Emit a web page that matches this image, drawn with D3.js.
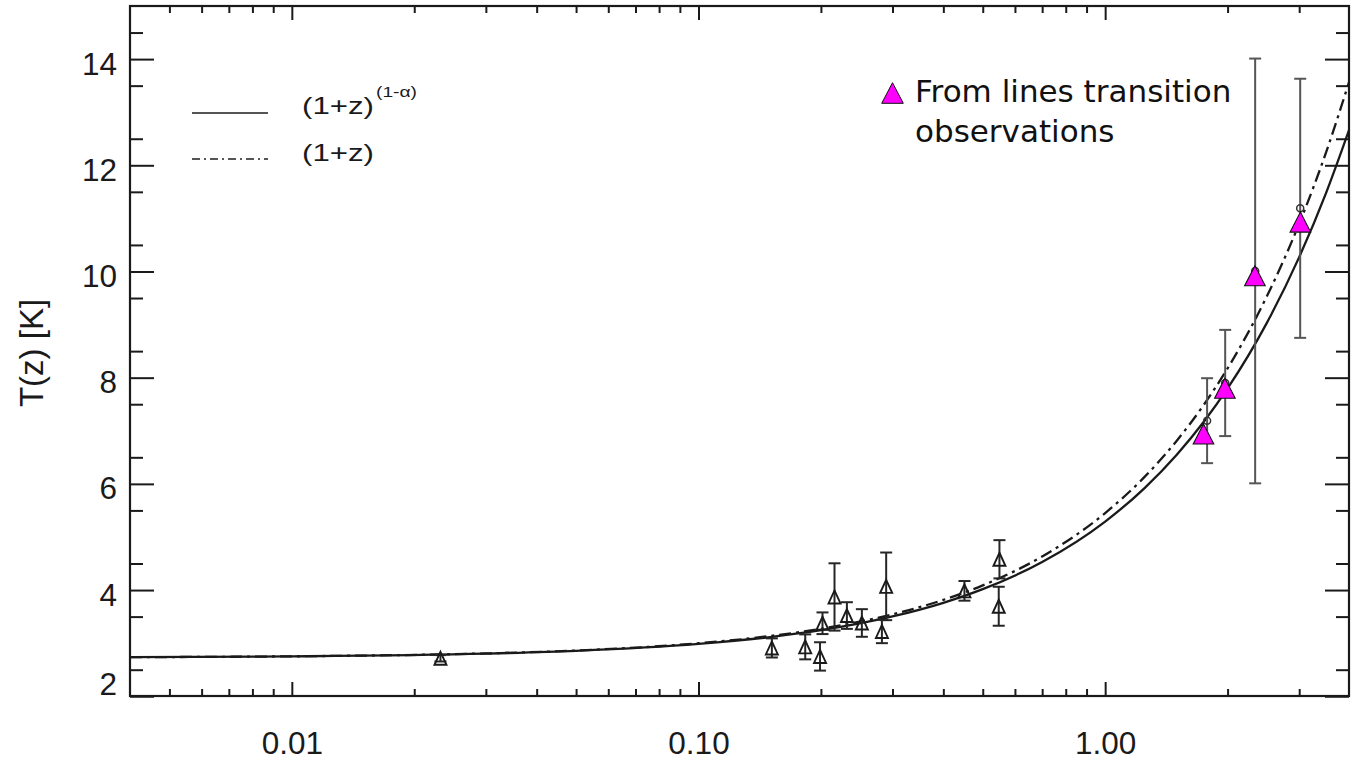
<!DOCTYPE html>
<html>
<head>
<meta charset="utf-8">
<script src="https://cdn.jsdelivr.net/npm/d3@7"></script>
<style>
  html, body { margin: 0; padding: 0; background: #fff; }
  svg { display: block; }
</style>
</head>
<body>
<svg id="chart" width="1353" height="761"></svg>
<script>
// CMB temperature T(z) against redshift z

// Low-redshift measurements (open triangles with error bars)
const zLow   = [0.0232, 0.1515, 0.183, 0.199, 0.2018, 0.216, 0.2317, 0.2522, 0.2825, 0.2894, 0.4508, 0.5496, 0.5474];
const tLow   = [2.715, 2.91, 2.93, 2.75, 3.375, 3.87, 3.52, 3.38, 3.22, 4.07, 3.985, 4.58, 3.695];
const errLow = [0.06, 0.18, 0.235, 0.267, 0.204, 0.634, 0.251, 0.26, 0.22, 0.637, 0.185, 0.36, 0.367];

// High-redshift measurements (small open markers with error bars)
const zHigh   = [1.781, 1.973, 2.338, 3.017];
const tHigh   = [7.19, 7.90, 10.01, 11.19];
const errHigh = [0.80, 1.00, 4.00, 2.44];

// Values from line-transition observations (magenta triangles)
const zLines = [1.745, 1.970, 2.335, 3.020];
const tLines = [6.94, 7.80, 9.92, 10.93];

// Model curves sampled along z
const zModel     = [0.004, 0.01, 0.03, 0.05, 0.1, 0.15, 0.2, 0.3, 0.4, 0.5, 0.7, 1.0, 1.25, 1.5, 1.75, 2.0, 2.5, 3.0, 3.5, 4.0];
const tScaling   = [2.735, 2.751, 2.803, 2.855, 2.985, 3.115, 3.244, 3.503, 3.760, 4.017, 4.528, 5.290, 5.921, 6.549, 7.175, 7.798, 9.037, 10.270, 11.496, 12.715];
const tStandard  = [2.736, 2.752, 2.807, 2.861, 2.998, 3.134, 3.270, 3.543, 3.815, 4.088, 4.633, 5.450, 6.131, 6.813, 7.494, 8.175, 9.538, 10.900, 12.263, 13.625];

// Axis ticks
const xTickValues = [0.01, 0.1, 1];
const xTickLabels = ["0.01", "0.10", "1.00"];
const yTickValues = [2, 4, 6, 8, 10, 12, 14];
const yTickLabels = ["2", "4", "6", "8", "10", "12", "14"];

const svg = d3.select("#chart");
const W = 1353, H = 761;
const plot = { left: 130, right: 1349, top: 6, bottom: 696 };

svg.append("rect").attr("width", W).attr("height", H).attr("fill", "#fff");

const x = d3.scaleLog().domain([0.004, 4]).range([130, 1350]);
const y = d3.scaleLinear().domain([2, 15]).range([696.25, 6]);

// minor tick positions
const xMinor = [];
[0.001, 0.01, 0.1, 1].forEach(dec => {
  for (let k = 2; k <= 9; k++) {
    const v = k * dec;
    if (v > 0.0041 && v < 3.99 && ![0.01, 0.1, 1].some(m => Math.abs(m - v) < 1e-9)) xMinor.push(v);
  }
});
const yMinor = d3.range(2.5, 15, 1);

const tickFont = "'Liberation Sans', Arial, Helvetica, sans-serif";
const ink = "#1a1a1a";

function styleAxis(g) {
  g.select(".domain").remove();
  g.selectAll(".tick line").attr("stroke", ink).attr("stroke-width", 2);
  g.selectAll(".tick text").attr("fill", ink).style("font-family", tickFont).style("font-size", "31.5px");
}

// bottom axis
svg.append("g").attr("transform", `translate(0,${plot.bottom})`)
  .call(d3.axisBottom(x).tickValues(xTickValues).tickSize(-14).tickPadding(36)
    .tickFormat((d, i) => xTickLabels[i]))
  .call(styleAxis);
svg.append("g").attr("transform", `translate(0,${plot.bottom})`)
  .call(d3.axisBottom(x).tickValues(xMinor).tickSize(-7).tickFormat(""))
  .call(styleAxis);
// top axis
svg.append("g").attr("transform", `translate(0,${plot.top})`)
  .call(d3.axisTop(x).tickValues(xTickValues).tickSize(-14).tickFormat(""))
  .call(styleAxis);
svg.append("g").attr("transform", `translate(0,${plot.top})`)
  .call(d3.axisTop(x).tickValues(xMinor).tickSize(-7).tickFormat(""))
  .call(styleAxis);
// left axis
const leftAxis = svg.append("g").attr("transform", `translate(${plot.left},0)`)
  .call(d3.axisLeft(y).tickValues(yTickValues).tickSize(-24).tickPadding(13)
    .tickFormat((d, i) => yTickLabels[i]))
  .call(styleAxis);
leftAxis.selectAll(".tick text").attr("dy", d => d === 2 ? "-2px" : "15px");
svg.append("g").attr("transform", `translate(${plot.left},0)`)
  .call(d3.axisLeft(y).tickValues(yMinor).tickSize(-13).tickFormat(""))
  .call(styleAxis);
// right axis
svg.append("g").attr("transform", `translate(${plot.right},0)`)
  .call(d3.axisRight(y).tickValues(yTickValues).tickSize(-24).tickFormat(""))
  .call(styleAxis);
svg.append("g").attr("transform", `translate(${plot.right},0)`)
  .call(d3.axisRight(y).tickValues(yMinor).tickSize(-13).tickFormat(""))
  .call(styleAxis);

// frame
svg.append("rect")
  .attr("x", plot.left).attr("y", plot.top)
  .attr("width", plot.right - plot.left).attr("height", plot.bottom - plot.top)
  .attr("fill", "none").attr("stroke", ink).attr("stroke-width", 2.2);

// y-axis title
svg.append("text")
  .attr("transform", "translate(43,353) rotate(-90)")
  .attr("text-anchor", "middle")
  .style("font-family", tickFont).style("font-size", "33px")
  .attr("fill", ink)
  .text("T(z) [K]");

// clip region
svg.append("defs").append("clipPath").attr("id", "plotClip")
  .append("rect").attr("x", plot.left).attr("y", plot.top)
  .attr("width", plot.right - plot.left).attr("height", plot.bottom - plot.top);

const dataLayer = svg.append("g").attr("clip-path", "url(#plotClip)");

const line = d3.line().x(d => x(d[0])).y(d => y(d[1])).curve(d3.curveMonotoneX);
const dashDot = "12,5,3,5";

dataLayer.append("path")
  .attr("d", line(zModel.map((z, i) => [z, tStandard[i]])))
  .attr("fill", "none").attr("stroke", ink).attr("stroke-width", 2.3)
  .attr("stroke-dasharray", dashDot);
dataLayer.append("path")
  .attr("d", line(zModel.map((z, i) => [z, tScaling[i]])))
  .attr("fill", "none").attr("stroke", ink).attr("stroke-width", 2.3);

// error bars
function errorBars(zs, ts, es, color, sw, cap) {
  const g = dataLayer.append("g").attr("stroke", color).attr("stroke-width", sw).attr("fill", "none");
  zs.forEach((z, i) => {
    const cx = x(z), y0 = y(ts[i] - es[i]), y1 = y(ts[i] + es[i]);
    g.append("line").attr("x1", cx).attr("x2", cx).attr("y1", y0).attr("y2", y1);
    g.append("line").attr("x1", cx - cap / 2).attr("x2", cx + cap / 2).attr("y1", y0).attr("y2", y0);
    g.append("line").attr("x1", cx - cap / 2).attr("x2", cx + cap / 2).attr("y1", y1).attr("y2", y1);
  });
}
errorBars(zLow, tLow, errLow, "#262626", 2, 12);
errorBars(zHigh, tHigh, errHigh, "#555", 2, 12);

const tri = (w, h) => `M0,${-h / 2}L${w / 2},${h / 2}L${-w / 2},${h / 2}Z`;

// low-z open triangles
dataLayer.append("g").selectAll("path")
  .data(zLow.map((z, i) => [z, tLow[i]]))
  .join("path")
  .attr("d", tri(12, 13))
  .attr("transform", d => `translate(${x(d[0])},${y(d[1])})`)
  .attr("fill", "none").attr("stroke", ink).attr("stroke-width", 1.9);

// high-z open markers
dataLayer.append("g").selectAll("circle")
  .data(zHigh.map((z, i) => [z, tHigh[i]]))
  .join("circle")
  .attr("cx", d => x(d[0])).attr("cy", d => y(d[1])).attr("r", 3.5)
  .attr("fill", "none").attr("stroke", "#333").attr("stroke-width", 1.5);

// line-transition points
dataLayer.append("g").selectAll("path")
  .data(zLines.map((z, i) => [z, tLines[i]]))
  .join("path")
  .attr("d", tri(20.6, 20))
  .attr("transform", d => `translate(${x(d[0])},${y(d[1])})`)
  .attr("fill", "#ff00ff").attr("stroke", "#111").attr("stroke-width", 1.1);

// legend: model curves
const legend = svg.append("g");
legend.append("line").attr("x1", 192).attr("x2", 268).attr("y1", 113).attr("y2", 113)
  .attr("stroke", "#555").attr("stroke-width", 2);
legend.append("line").attr("x1", 192).attr("x2", 268).attr("y1", 159).attr("y2", 159)
  .attr("stroke", "#555").attr("stroke-width", 2).attr("stroke-dasharray", "8,4,2,4");
legend.append("text").attr("x", 302).attr("y", 114)
  .style("font-family", tickFont).style("font-size", "24px").attr("fill", ink)
  .attr("textLength", 72).attr("lengthAdjust", "spacingAndGlyphs")
  .text("(1+z)");
legend.append("text").attr("x", 376).attr("y", 97)
  .style("font-family", tickFont).style("font-size", "14px").attr("fill", ink)
  .attr("textLength", 41).attr("lengthAdjust", "spacingAndGlyphs")
  .text("(1-α)");
legend.append("text").attr("x", 302).attr("y", 161)
  .style("font-family", tickFont).style("font-size", "24px").attr("fill", ink)
  .attr("textLength", 72).attr("lengthAdjust", "spacingAndGlyphs")
  .text("(1+z)");

// legend: line-transition points
legend.append("path").attr("d", tri(21.6, 20.6))
  .attr("transform", "translate(892.5,93)")
  .attr("fill", "#ff00ff").attr("stroke", "#111").attr("stroke-width", 1);
const obsFont = "'DejaVu Sans', Verdana, sans-serif";
legend.append("text").attr("x", 915).attr("y", 102)
  .style("font-family", obsFont).style("font-size", "31px").attr("fill", "#111")
  .text("From lines transition");
legend.append("text").attr("x", 915).attr("y", 142)
  .style("font-family", obsFont).style("font-size", "31px").attr("fill", "#111")
  .text("observations");
</script>
</body>
</html>
